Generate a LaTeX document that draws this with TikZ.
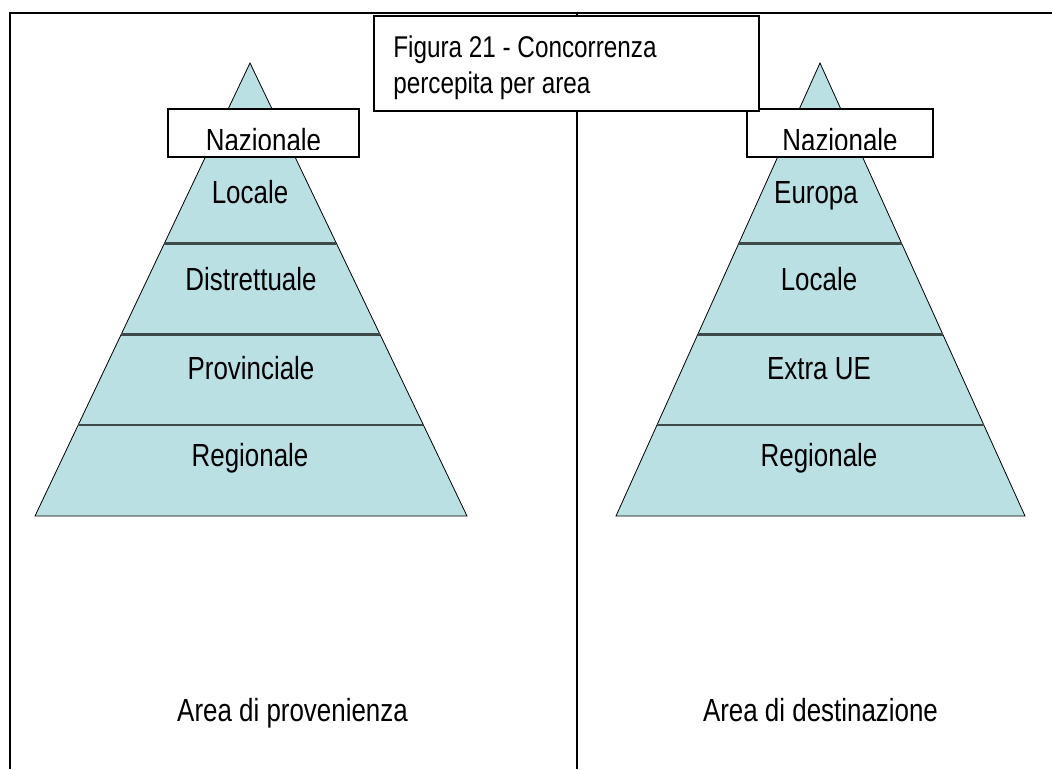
\documentclass[tikz,border=0pt]{standalone}
\usepackage{fontspec}
\setmainfont{Liberation Sans}
\newfontfamily\nf[FakeStretch=0.81]{Liberation Sans}
\usetikzlibrary{calc}
\definecolor{pyr}{RGB}{187,224,227}
\definecolor{divc}{RGB}{62,74,74}
\tikzset{
  lab/.style={font=\nf\fontsize{24}{28}\selectfont, anchor=base, inner sep=0pt},
  ttl/.style={font=\nf\fontsize{22.5}{27}\selectfont, anchor=base west, inner sep=0pt},
  pyrshape/.style={fill=pyr, draw=black, line width=0.6pt},
  divline/.style={draw=divc, line width=1.6pt},
  frameline/.style={draw=black, line width=1.5pt},
  whitebox/.style={fill=white, draw=black, line width=1.3pt}
}
\begin{document}
\begin{tikzpicture}[x=0.75pt,y=-0.75pt]
\useasboundingbox (0,0) rectangle (1052,769);
% frame
\draw[frameline] (10,769) -- (10,13) -- (1052,13);
\draw[frameline] (577,13) -- (577,769);
% left pyramid
\coordinate (LA) at (250,63);
\coordinate (LL) at (35,516);
\coordinate (LR) at (467,516);
\path[pyrshape] (LA) -- (LR) -- (LL) -- cycle;
\foreach \t in {0.3985,0.5993,0.7991}
  \draw[divline] ($(LA)!\t!(LL)$) -- ($(LA)!\t!(LR)$);
% right pyramid
\coordinate (RA) at (820,63);
\coordinate (RL) at (616,516);
\coordinate (RR) at (1025,516);
\path[pyrshape] (RA) -- (RR) -- (RL) -- cycle;
\foreach \t in {0.3985,0.5993,0.7991}
  \draw[divline] ($(RA)!\t!(RL)$) -- ($(RA)!\t!(RR)$);
% labels left
\node[lab] (l1) at (250,203) {Locale};
\node[lab] (l2) at (251,290) {Distrettuale};
\node[lab] (l3) at (251,379) {Provinciale};
\node[lab] (l4) at (250,466) {Regionale};
% labels right
\node[lab] (r1) at (816,203) {Europa};
\node[lab] (r2) at (819,290) {Locale};
\node[lab] (r3) at (819,379) {Extra UE};
\node[lab] (r4) at (819,466) {Regionale};
% Nazionale boxes
\path[whitebox] (168,109) rectangle (359,157);
\begin{scope}
  \clip (168,109) rectangle (359,149.5);
  \node[lab] (ln) at (263.5,151) {Nazionale};
\end{scope}
\path[whitebox] (747,109) rectangle (933,157);
\begin{scope}
  \clip (747,109) rectangle (933,149.5);
  \node[lab] (rn) at (840,151) {Nazionale};
\end{scope}
% title box
\path[whitebox] (374,16) rectangle (759,111);
\node[ttl] (t1) at (393,57) {Figura 21 - Concorrenza};
\node[ttl] (t2) at (393,93) {percepita per area};
% bottom labels
\node[lab] (b1) at (292.5,721) {Area di provenienza};
\node[lab] (b2) at (820.5,721) {Area di destinazione};
\end{tikzpicture}
\end{document}
